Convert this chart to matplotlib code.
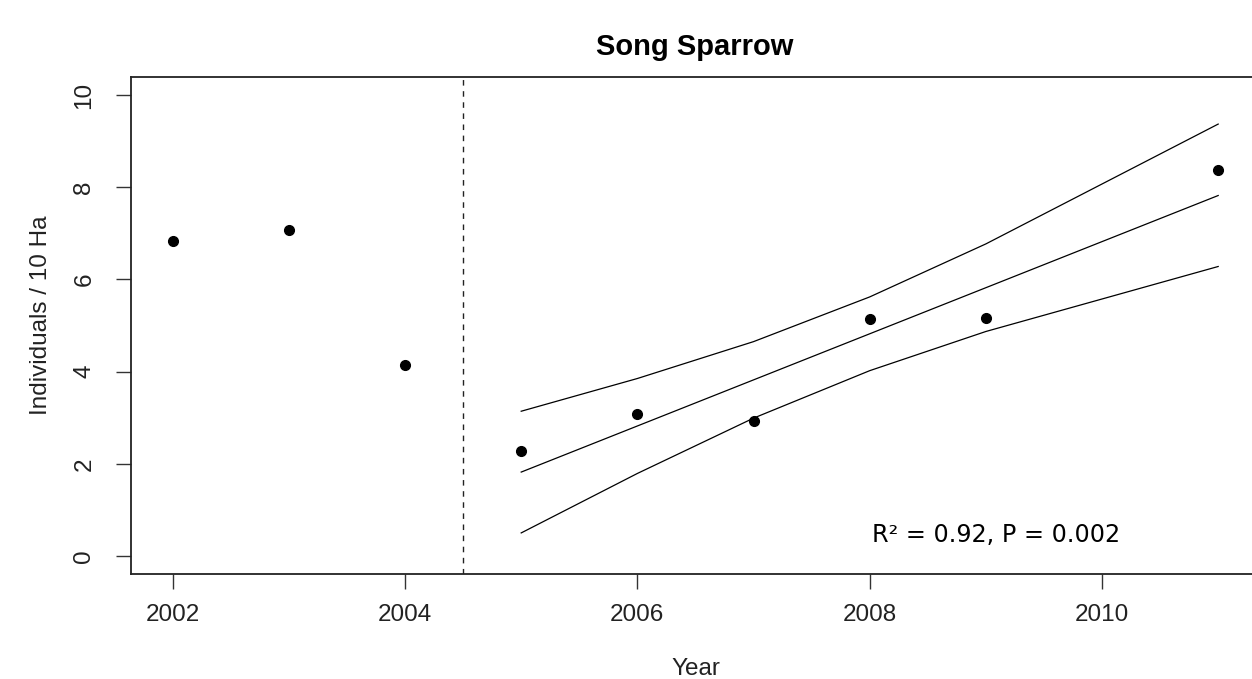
import matplotlib
matplotlib.use("Agg")
import matplotlib.pyplot as plt

# ---- data ----
years = [2002, 2003, 2004, 2005, 2006, 2007, 2008, 2009, 2011]
density = [6.84, 7.07, 4.14, 2.28, 3.07, 2.92, 5.14, 5.16, 8.37]

fit_years = [2005, 2006, 2007, 2008, 2009, 2011]
fit_mid = [1.82, 2.82, 3.82, 4.82, 5.82, 7.82]
fit_upper = [3.14, 3.85, 4.65, 5.62, 6.77, 9.37]
fit_lower = [0.50, 1.79, 2.99, 4.02, 4.87, 6.28]

break_year = 2004.5
xticks = [2002, 2004, 2006, 2008, 2010]
yticks = [0, 2, 4, 6, 8, 10]
title = "Song Sparrow"
xlabel = "Year"
ylabel = "Individuals / 10 Ha"
stat_text = "R\u00b2 = 0.92, P = 0.002"

W, H = 1252, 679
fig = plt.figure(figsize=(W / 100, H / 100), dpi=100)
fig.patch.set_facecolor("white")

def fx(px):
    return px / W

def fy(py):
    return 1 - py / H

left, right, top, bottom = 130.9, 1260.0, 76.6, 574.4
ax = fig.add_axes([fx(left), fy(bottom), fx(right - left), (bottom - top) / H])

base_font = ["Liberation Sans", "DejaVu Sans"]

ax.plot(years, density, linestyle="none", marker="o", ms=7, color="black")
ax.plot(fit_years, fit_mid, color="black", lw=0.9)
ax.plot(fit_years, fit_upper, color="black", lw=0.9)
ax.plot(fit_years, fit_lower, color="black", lw=0.9)
ax.axvline(break_year, color="#222222", lw=1.0, linestyle=(0, (4, 4)))

ax.set_xlim(2001.64, 2011.36)
ax.set_ylim(-0.4, 10.4)
ax.set_xticks(xticks)
ax.set_yticks(yticks)
ax.set_xticklabels([str(t) for t in xticks], family=base_font, fontsize=17.5, color="#222222")
ax.set_yticklabels([str(t) for t in yticks], family=base_font, fontsize=17.5, color="#222222",
                   rotation=90, va="center")
ax.tick_params(axis="both", direction="out", length=10.5, width=1.0, color="#333333")
ax.tick_params(axis="x", pad=11)
ax.tick_params(axis="y", pad=15)

for s in ax.spines.values():
    s.set_linewidth(1.3)
    s.set_color("#222222")

ax.text(2008.02, 0.31, stat_text, family=["DejaVu Sans"], fontsize=17.2,
        ha="left", va="baseline", color="black")

fig.text(fx(695), fy(47), title, family=base_font, fontsize=21, fontweight="bold",
         ha="center", va="center")
fig.text(fx(696), fy(669), xlabel, family=base_font, fontsize=17.5, ha="center", va="center",
         color="#222222")
fig.text(fx(41), fy(315), ylabel, family=base_font, fontsize=17.5, ha="center", va="center",
         rotation=90, color="#222222")

fig.savefig("out.png", dpi=100, facecolor="white")
